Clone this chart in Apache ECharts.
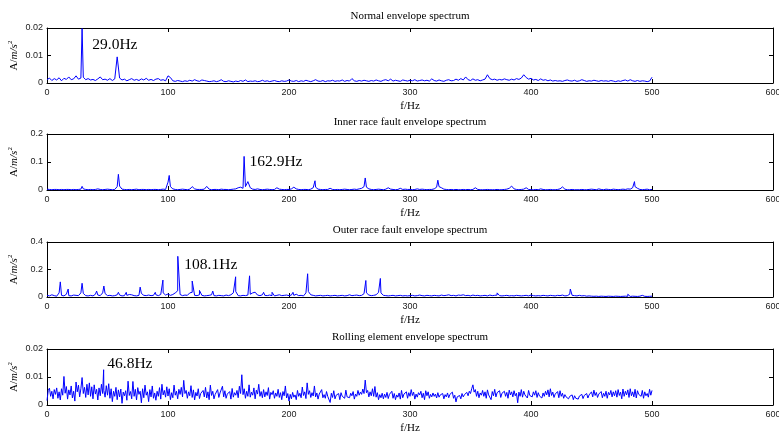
<!DOCTYPE html>
<html>
<head>
<meta charset="utf-8">
<script src="https://cdn.jsdelivr.net/npm/echarts@6/dist/echarts.min.js"></script>
<style>
html,body{margin:0;padding:0;background:#fff;}
#chart{width:779px;height:433px;}
</style>
</head>
<body>
<div id="chart"></div>
<script>
// ---- panel titles and axis ticks ----
const panelTitles = [
  'Normal envelope spectrum',
  'Inner race fault envelope spectrum',
  'Outer race fault envelope spectrum',
  'Rolling element envelope spectrum'
];
const freqTicks = [0, 100, 200, 300, 400, 500, 600];
const ampMax = [0.02, 0.2, 0.4, 0.02];
const ampStep = [0.01, 0.1, 0.2, 0.01];

// ---- envelope spectra: amplitudes on a uniform frequency grid (Hz per bin) ----
const normalBinHz = 2;
const normalBins = [
  0.0012,0.0018,0.0009,0.0016,0.0011,0.0019,0.0008,0.0017,0.0013,0.0022,
  0.0012,0.0015,0.0026,0.0014,0.0018,0.0021,0.0012,0.0016,0.0011,0.0013,
  0.0009,0.0015,0.0022,0.0012,0.0014,0.0010,0.0016,0.0009,0.0015,0.0095,
  0.0018,0.0011,0.0014,0.0008,0.0012,0.0016,0.0010,0.0013,0.0009,0.0015,
  0.0011,0.0017,0.0010,0.0013,0.0009,0.0014,0.0016,0.0010,0.0012,0.0008,
  0.0026,0.0020,0.0008,0.0006,0.0009,0.0007,0.0005,0.0008,0.0006,0.0010,
  0.0007,0.0012,0.0008,0.0006,0.0011,0.0009,0.0007,0.0005,0.0006,0.0008,
  0.0005,0.0007,0.0012,0.0006,0.0005,0.0008,0.0006,0.0004,0.0007,0.0005,
  0.0009,0.0006,0.0011,0.0005,0.0007,0.0006,0.0008,0.0005,0.0006,0.0010,
  0.0006,0.0008,0.0005,0.0007,0.0009,0.0006,0.0005,0.0008,0.0006,0.0007,
  0.0011,0.0007,0.0006,0.0009,0.0005,0.0008,0.0006,0.0010,0.0007,0.0005,
  0.0008,0.0012,0.0007,0.0006,0.0009,0.0005,0.0008,0.0007,0.0010,0.0006,
  0.0008,0.0007,0.0011,0.0006,0.0009,0.0007,0.0016,0.0008,0.0006,0.0009,
  0.0007,0.0010,0.0008,0.0006,0.0009,0.0007,0.0011,0.0008,0.0006,0.0010,
  0.0012,0.0008,0.0014,0.0007,0.0010,0.0008,0.0006,0.0011,0.0009,0.0007,
  0.0010,0.0008,0.0012,0.0007,0.0009,0.0011,0.0008,0.0010,0.0007,0.0015,
  0.0009,0.0007,0.0011,0.0008,0.0006,0.0010,0.0012,0.0008,0.0009,0.0014,
  0.0010,0.0016,0.0011,0.0022,0.0012,0.0009,0.0015,0.0010,0.0012,0.0008,
  0.0011,0.0014,0.0030,0.0016,0.0012,0.0014,0.0010,0.0013,0.0011,0.0015,
  0.0012,0.0010,0.0014,0.0011,0.0016,0.0013,0.0018,0.0030,0.0020,0.0014,
  0.0017,0.0011,0.0013,0.0009,0.0015,0.0010,0.0012,0.0008,0.0011,0.0007,
  0.0009,0.0007,0.0008,0.0006,0.0009,0.0011,0.0008,0.0007,0.0010,0.0006,
  0.0008,0.0012,0.0009,0.0006,0.0008,0.0007,0.0010,0.0008,0.0006,0.0009,
  0.0007,0.0008,0.0006,0.0009,0.0007,0.0005,0.0008,0.0006,0.0009,0.0011,
  0.0007,0.0012,0.0008,0.0006,0.0009,0.0006,0.0008,0.0007,0.0005,0.0007,
  0.0021
];
// [frequency Hz, amplitude] of the spectral lines
const normalPeaks = [[29.0, 0.0198]];

const innerBinHz = 2;
const innerBins = [
  0.003,0.002,0.001,0.002,0.002,0.001,0.002,0.001,0.002,0.002,
  0.001,0.002,0.001,0.002,0.003,0.004,0.002,0.001,0.002,0.001,
  0.002,0.004,0.002,0.001,0.002,0.003,0.002,0.001,0.002,0.012,
  0.014,0.003,0.002,0.001,0.002,0.001,0.002,0.003,0.001,0.002,
  0.002,0.001,0.002,0.001,0.002,0.002,0.001,0.002,0.003,0.002,
  0.028,0.012,0.004,0.002,0.001,0.002,0.003,0.002,0.001,0.003,
  0.012,0.004,0.002,0.002,0.002,0.003,0.013,0.003,0.001,0.002,
  0.002,0.001,0.003,0.002,0.002,0.001,0.002,0.003,0.004,0.008,
  0.010,0.006,0.012,0.030,0.008,0.003,0.002,0.004,0.002,0.001,
  0.002,0.003,0.002,0.001,0.002,0.008,0.003,0.002,0.001,0.002,
  0.002,0.004,0.010,0.004,0.002,0.001,0.002,0.002,0.001,0.003,
  0.008,0.010,0.003,0.002,0.001,0.002,0.002,0.006,0.002,0.001,
  0.002,0.001,0.002,0.003,0.002,0.001,0.002,0.003,0.002,0.004,
  0.006,0.012,0.010,0.004,0.002,0.001,0.002,0.003,0.002,0.001,
  0.003,0.008,0.003,0.002,0.001,0.002,0.006,0.002,0.003,0.002,
  0.002,0.001,0.002,0.004,0.002,0.003,0.002,0.001,0.002,0.002,
  0.004,0.010,0.012,0.008,0.003,0.002,0.001,0.002,0.001,0.002,
  0.001,0.001,0.002,0.001,0.002,0.001,0.002,0.008,0.002,0.001,
  0.001,0.001,0.002,0.001,0.001,0.001,0.002,0.001,0.001,0.002,
  0.003,0.006,0.014,0.004,0.002,0.001,0.002,0.003,0.008,0.002,
  0.001,0.001,0.002,0.001,0.004,0.002,0.001,0.001,0.002,0.001,
  0.001,0.002,0.004,0.011,0.003,0.001,0.001,0.002,0.001,0.001,
  0.001,0.002,0.001,0.001,0.002,0.003,0.002,0.001,0.004,0.002,
  0.001,0.003,0.002,0.001,0.003,0.002,0.001,0.002,0.003,0.002,
  0.004,0.003,0.008,0.012,0.006,0.002,0.001,0.002,0.003,0.001,
  0.002
];
const innerPeaks = [
  [29.0,0.013],[41.0,0.006],[59.0,0.056],[101.0,0.052],[162.9,0.120],
  [221.5,0.033],[263.0,0.043],[323.0,0.035],[485.5,0.030]
];

const outerBinHz = 2;
const outerBins = [
  0.012,0.008,0.016,0.010,0.006,0.030,0.012,0.008,0.020,0.010,
  0.008,0.014,0.012,0.010,0.030,0.026,0.010,0.008,0.012,0.008,
  0.020,0.014,0.010,0.030,0.025,0.010,0.012,0.008,0.010,0.016,
  0.014,0.008,0.010,0.012,0.018,0.016,0.010,0.008,0.012,0.026,
  0.012,0.010,0.014,0.010,0.012,0.016,0.010,0.018,0.030,0.014,
  0.022,0.012,0.018,0.030,0.045,0.018,0.010,0.014,0.012,0.030,
  0.034,0.012,0.010,0.016,0.012,0.008,0.010,0.012,0.016,0.010,
  0.008,0.012,0.010,0.008,0.014,0.010,0.016,0.030,0.040,0.010,
  0.008,0.012,0.010,0.014,0.020,0.030,0.035,0.014,0.010,0.016,
  0.012,0.010,0.014,0.010,0.008,0.012,0.016,0.010,0.012,0.014,
  0.010,0.014,0.012,0.020,0.010,0.012,0.008,0.030,0.040,0.016,
  0.012,0.008,0.010,0.012,0.008,0.010,0.012,0.008,0.010,0.012,
  0.008,0.010,0.012,0.008,0.010,0.016,0.010,0.012,0.014,0.010,
  0.012,0.024,0.030,0.014,0.010,0.012,0.016,0.034,0.030,0.012,
  0.010,0.008,0.010,0.012,0.008,0.010,0.012,0.008,0.010,0.008,
  0.010,0.012,0.008,0.010,0.014,0.010,0.008,0.012,0.010,0.008,
  0.012,0.010,0.008,0.014,0.010,0.012,0.016,0.010,0.012,0.008,
  0.014,0.012,0.016,0.010,0.012,0.008,0.014,0.010,0.012,0.008,
  0.010,0.012,0.008,0.014,0.010,0.012,0.014,0.010,0.008,0.010,
  0.012,0.008,0.010,0.008,0.012,0.010,0.008,0.010,0.012,0.008,
  0.014,0.010,0.008,0.010,0.008,0.012,0.010,0.008,0.012,0.010,
  0.008,0.012,0.010,0.014,0.008,0.010,0.020,0.012,0.010,0.008,
  0.012,0.008,0.010,0.006,0.008,0.006,0.005,0.006,0.004,0.006,
  0.005,0.004,0.006,0.005,0.004,0.006,0.005,0.004,0.005,0.006,
  0.005,0.004,0.006,0.005,0.004,0.006,0.012,0.005,0.004,0.005,
  0.006
];
const outerPeaks = [
  [11.0,0.110],[17.5,0.058],[24.0,0.025],[29.0,0.100],[41.0,0.043],
  [47.0,0.080],[59.0,0.034],[65.5,0.034],[77.0,0.072],[89.5,0.034],
  [95.8,0.123],[108.1,0.296],[120.0,0.116],[126.0,0.048],[137.0,0.043],
  [155.9,0.147],[167.4,0.154],[179.0,0.034],[186.0,0.034],[203.3,0.034],
  [215.4,0.169],[233.5,0.024],[263.5,0.120],[275.5,0.135],[372.0,0.030],
  [432.5,0.058],[480.0,0.020]
];

const rollingBinHz = 1;
const rollingBins = [
  0.0016,0.0052,0.0060,0.0031,0.0049,0.0022,0.0055,0.0038,0.0061,0.0024,
  0.0047,0.0018,0.0058,0.0035,0.0102,0.0042,0.0066,0.0021,0.0054,0.0036,
  0.0068,0.0025,0.0049,0.0014,0.0082,0.0047,0.0071,0.0029,0.0058,0.0098,
  0.0041,0.0063,0.0027,0.0074,0.0036,0.0079,0.0031,0.0065,0.0022,0.0072,
  0.0039,0.0056,0.0018,0.0061,0.0033,0.0074,0.0041,0.0052,0.0028,0.0069,
  0.0035,0.0076,0.0024,0.0058,0.0012,0.0049,0.0031,0.0063,0.0019,0.0054,
  0.0029,0.0057,0.0006,0.0046,0.0033,0.0051,0.0017,0.0085,0.0034,0.0048,
  0.0022,0.0084,0.0031,0.0056,0.0018,0.0062,0.0038,0.0049,0.0008,0.0058,
  0.0026,0.0071,0.0035,0.0047,0.0012,0.0055,0.0029,0.0068,0.0024,0.0043,
  0.0017,0.0049,0.0031,0.0062,0.0021,0.0074,0.0036,0.0052,0.0028,0.0065,
  0.0032,0.0058,0.0019,0.0044,0.0026,0.0071,0.0035,0.0049,0.0022,0.0056,
  0.0038,0.0063,0.0029,0.0088,0.0041,0.0052,0.0024,0.0047,0.0033,0.0069,
  0.0027,0.0054,0.0018,0.0045,0.0032,0.0058,0.0023,0.0041,0.0035,0.0052,
  0.0029,0.0063,0.0025,0.0047,0.0019,0.0071,0.0034,0.0049,0.0022,0.0038,
  0.0031,0.0055,0.0027,0.0043,0.0036,0.0067,0.0029,0.0051,0.0024,0.0039,
  0.0033,0.0048,0.0021,0.0059,0.0028,0.0044,0.0035,0.0052,0.0026,0.0067,
  0.0041,0.0108,0.0037,0.0058,0.0024,0.0049,0.0031,0.0072,0.0028,0.0046,
  0.0035,0.0061,0.0022,0.0053,0.0039,0.0074,0.0031,0.0048,0.0026,0.0055,
  0.0029,0.0047,0.0034,0.0062,0.0021,0.0045,0.0037,0.0051,0.0024,0.0043,
  0.0031,0.0056,0.0027,0.0044,0.0019,0.0048,0.0033,0.0068,0.0025,0.0041,
  0.0014,0.0038,0.0022,0.0045,0.0028,0.0036,0.0019,0.0052,0.0031,0.0042,
  0.0026,0.0064,0.0034,0.0047,0.0023,0.0079,0.0038,0.0051,0.0027,0.0044,
  0.0032,0.0068,0.0029,0.0043,0.0021,0.0039,0.0033,0.0055,0.0026,0.0037,
  0.0024,0.0048,0.0031,0.0036,0.0009,0.0042,0.0027,0.0051,0.0022,0.0035,
  0.0028,0.0041,0.0019,0.0044,0.0031,0.0038,0.0024,0.0053,0.0029,0.0036,
  0.0026,0.0042,0.0033,0.0048,0.0021,0.0039,0.0031,0.0052,0.0035,0.0046,
  0.0038,0.0057,0.0041,0.0089,0.0044,0.0052,0.0029,0.0047,0.0033,0.0058,
  0.0031,0.0066,0.0028,0.0044,0.0019,0.0037,0.0026,0.0042,0.0022,0.0039,
  0.0027,0.0045,0.0023,0.0038,0.0031,0.0049,0.0024,0.0041,0.0019,0.0036,
  0.0028,0.0043,0.0021,0.0052,0.0026,0.0039,0.0032,0.0047,0.0024,0.0044,
  0.0031,0.0055,0.0034,0.0046,0.0021,0.0039,0.0028,0.0044,0.0036,0.0049,
  0.0026,0.0042,0.0019,0.0051,0.0033,0.0047,0.0024,0.0038,0.0029,0.0043,
  0.0031,0.0039,0.0025,0.0044,0.0028,0.0036,0.0033,0.0041,0.0022,0.0037,
  0.0029,0.0043,0.0026,0.0038,0.0031,0.0046,0.0024,0.0035,0.0011,0.0029,
  0.0027,0.0034,0.0022,0.0041,0.0029,0.0037,0.0031,0.0045,0.0033,0.0049,
  0.0041,0.0058,0.0072,0.0046,0.0055,0.0031,0.0049,0.0026,0.0043,0.0035,
  0.0052,0.0031,0.0047,0.0024,0.0054,0.0036,0.0041,0.0019,0.0048,0.0033,
  0.0056,0.0029,0.0044,0.0038,0.0051,0.0027,0.0042,0.0035,0.0049,0.0031,
  0.0045,0.0024,0.0053,0.0036,0.0047,0.0029,0.0051,0.0033,0.0042,0.0008,
  0.0046,0.0031,0.0055,0.0028,0.0049,0.0036,0.0043,0.0025,0.0052,0.0034,
  0.0041,0.0029,0.0047,0.0035,0.0051,0.0027,0.0044,0.0032,0.0038,0.0025,
  0.0043,0.0031,0.0049,0.0036,0.0054,0.0029,0.0058,0.0034,0.0046,0.0027,
  0.0039,0.0033,0.0048,0.0026,0.0051,0.0031,0.0042,0.0024,0.0037,0.0029,
  0.0035,0.0022,0.0031,0.0027,0.0036,0.0019,0.0033,0.0024,0.0029,0.0021,
  0.0032,0.0026,0.0038,0.0023,0.0034,0.0028,0.0041,0.0025,0.0036,0.0031,
  0.0047,0.0029,0.0053,0.0034,0.0045,0.0027,0.0039,0.0032,0.0048,0.0026,
  0.0042,0.0031,0.0049,0.0024,0.0045,0.0036,0.0052,0.0029,0.0047,0.0033,
  0.0051,0.0028,0.0055,0.0034,0.0046,0.0022,0.0057,0.0031,0.0049,0.0036,
  0.0054,0.0027,0.0058,0.0033,0.0047,0.0029,0.0056,0.0025,0.0051,0.0038,
  0.0044,0.0031,0.0052,0.0024,0.0047,0.0033,0.0041,0.0028,0.0056,0.0035,
  0.0052
];
const rollingPeaks = [[46.8, 0.0126]];

// which spectral line each panel annotates, and where its text sits (Hz, amplitude)
const annotatedPeak = [normalPeaks[0], innerPeaks[4], outerPeaks[11], rollingPeaks[0]];
const annotationAt = [[37.4, 0.0139], [167.4, 0.100], [113.5, 0.233], [49.8, 0.0145]];

// merge the binned spectrum with its discrete lines, ordered by frequency
function spectrum(bins, binHz, peaks) {
  const pts = bins.map((v, i) => [i * binHz, v]);
  peaks.forEach(p => pts.push([p[0], p[1]]));
  pts.sort((a, b) => a[0] - b[0]);
  return pts;
}

const spectra = [
  spectrum(normalBins, normalBinHz, normalPeaks),
  spectrum(innerBins, innerBinHz, innerPeaks),
  spectrum(outerBins, outerBinHz, outerPeaks),
  spectrum(rollingBins, rollingBinHz, rollingPeaks)
];

const gridTops = [28, 134, 242, 349];
const gridHeights = [55, 56, 55, 56];

const SANS = 'Liberation Sans, Arial, sans-serif';
const SERIF = 'Liberation Serif, Times New Roman, serif';
const axisColor = '#000';

const grid = [], xAxis = [], yAxis = [], series = [];
for (let k = 0; k < 4; k++) {
  grid.push({
    left: 47, right: 6, top: gridTops[k], height: gridHeights[k],
    show: false, containLabel: false, outerBoundsMode: 'none'
  });
  const xBase = {
    gridIndex: k, type: 'value',
    min: freqTicks[0], max: freqTicks[freqTicks.length - 1], interval: freqTicks[1] - freqTicks[0],
    splitLine: { show: false },
    axisLine: { show: true, onZero: false, lineStyle: { color: axisColor, width: 1 } },
    axisTick: { show: true, inside: true, length: 4, lineStyle: { color: axisColor } }
  };
  xAxis.push(Object.assign({}, xBase, {
    position: 'bottom',
    name: 'f/Hz', nameLocation: 'middle', nameGap: 18, nameMoveOverlap: false,
    nameTextStyle: { fontFamily: SERIF, fontSize: 11, color: '#000' },
    axisLabel: { show: true, margin: 5, fontFamily: SANS, fontSize: 9, color: '#222', hideOverlap: false }
  }));
  xAxis.push(Object.assign({}, xBase, {
    position: 'top',
    name: panelTitles[k], nameLocation: 'middle', nameGap: 6, nameMoveOverlap: false,
    nameTextStyle: { fontFamily: SERIF, fontSize: 11, color: '#000' },
    axisLabel: { show: false }
  }));
  const yBase = {
    gridIndex: k, type: 'value', min: 0, max: ampMax[k], interval: ampStep[k],
    splitLine: { show: false },
    axisLine: { show: true, onZero: false, lineStyle: { color: axisColor, width: 1 } },
    axisTick: { show: true, inside: true, length: 4, lineStyle: { color: axisColor } }
  };
  yAxis.push(Object.assign({}, yBase, {
    position: 'left',
    name: '{a|A/}{i|m/s}{s|2}', nameLocation: 'middle', nameGap: 26, nameRotate: 90,
    nameMoveOverlap: false,
    nameTextStyle: {
      fontFamily: SERIF, fontSize: 11, color: '#000',
      rich: {
        a: { fontFamily: SERIF, fontSize: 11, color: '#000', lineHeight: 14 },
        i: { fontFamily: SERIF, fontSize: 11, fontStyle: 'italic', color: '#000', lineHeight: 14 },
        s: { fontFamily: SERIF, fontSize: 7, color: '#000', verticalAlign: 'top', lineHeight: 14 }
      }
    },
    axisLabel: { show: true, margin: 4, fontFamily: SANS, fontSize: 9, color: '#222' }
  }));
  yAxis.push(Object.assign({}, yBase, { position: 'right', axisLabel: { show: false } }));

  const pk = annotatedPeak[k];
  series.push({
    type: 'line',
    xAxisIndex: 2 * k, yAxisIndex: 2 * k,
    data: spectra[k],
    showSymbol: false, symbol: 'none',
    lineStyle: { color: '#0000ff', width: 1 },
    itemStyle: { color: '#0000ff' },
    animation: false,
    silent: true,
    markPoint: {
      symbol: 'circle', symbolSize: 0, animation: false, silent: true,
      data: [{
        coord: annotationAt[k],
        label: {
          show: true, position: 'right', distance: 0,
          formatter: pk[0].toFixed(1) + 'Hz',
          fontFamily: SERIF, fontSize: 15.5, color: '#000'
        }
      }]
    }
  });
}

const chart = echarts.init(document.getElementById('chart'), null, { renderer: 'canvas' });
chart.setOption({
  animation: false,
  backgroundColor: '#fff',
  grid, xAxis, yAxis, series
});
</script>
</body>
</html>
